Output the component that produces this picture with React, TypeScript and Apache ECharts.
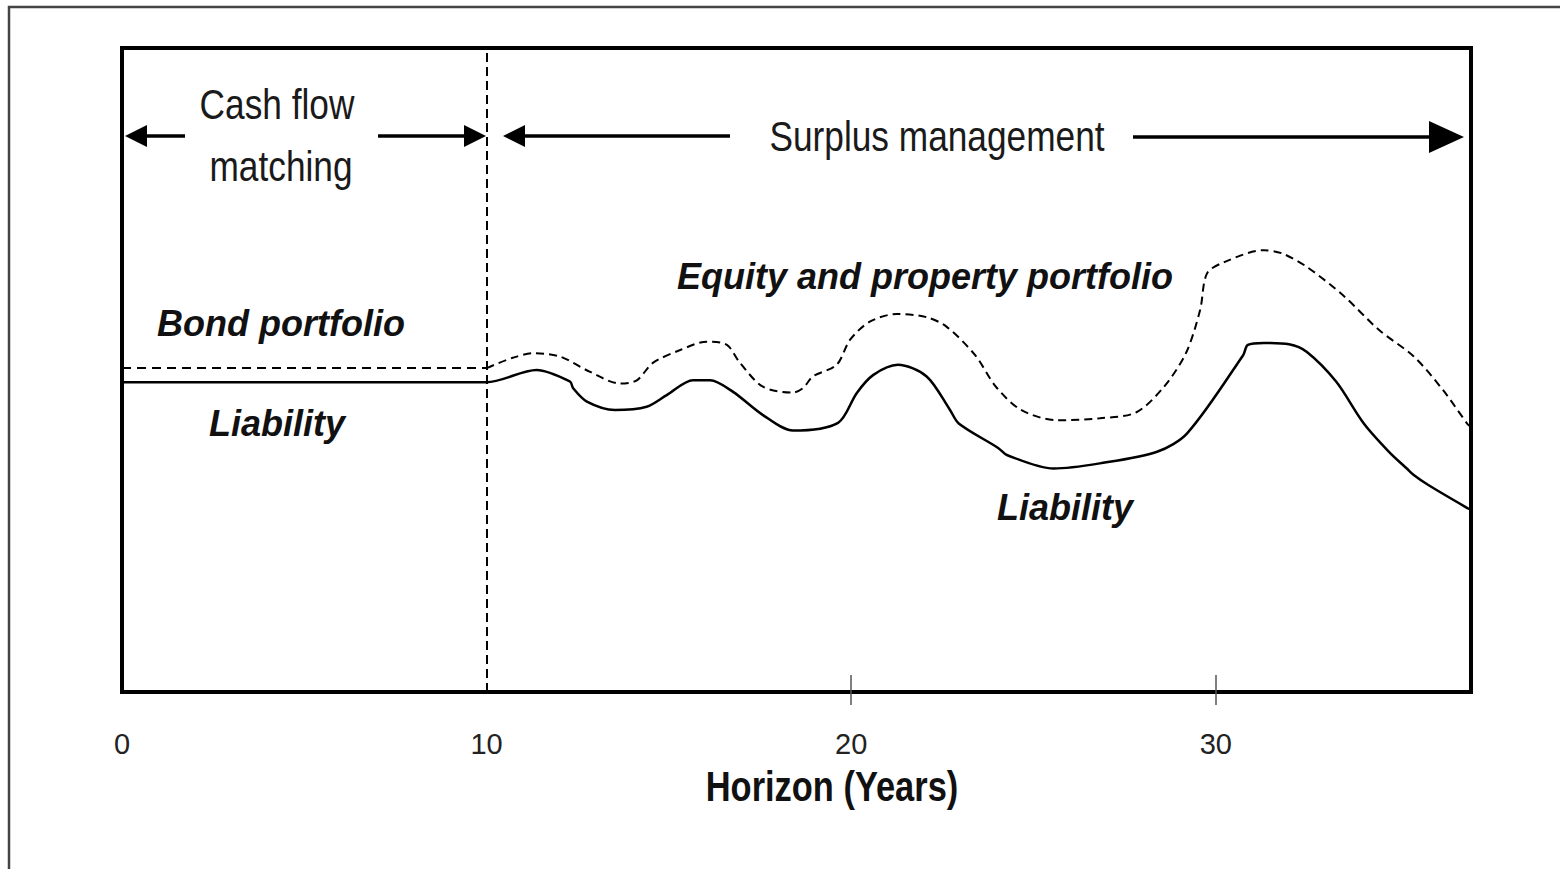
import React, { useEffect, useRef } from "react";
import * as echarts from "echarts";

// ---- Data (x = horizon in years, y = relative value, 0..100 scale) ----
const xTickLabels = [0, 10, 20, 30];
const xTickMarks = [20, 30];
const cashFlowEnd = 10;

const bondPortfolio: [number, number][] = [
  [0, 50.3],
  [10, 50.3],
];

const equityPortfolio: [number, number][] = [
  [10, 50.3], [10.72, 51.9], [11.27, 52.6], [12.01, 52.1], [12.84, 49.7],
  [13.66, 47.9], [14.12, 48.4], [14.56, 51.1], [15.31, 53.1], [16.04, 54.4],
  [16.59, 53.9], [16.95, 51.1], [17.58, 47.4], [18.4, 46.5], [18.68, 47.2],
  [18.95, 49.0], [19.6, 50.8], [19.97, 54.7], [20.51, 57.5], [21.25, 58.7],
  [22.07, 58.2], [22.62, 56.7], [23.4, 52.3], [23.97, 47.4], [24.66, 43.8],
  [25.64, 42.2], [26.82, 42.5], [27.81, 43.4], [28.58, 47.4], [29.18, 52.6],
  [29.57, 59.3], [29.76, 65.0], [30.25, 66.8], [31.32, 68.6], [31.82, 68.1],
  [32.5, 66.0], [33.49, 61.6], [34.48, 56.2], [35.43, 52.1], [36.23, 46.9],
  [36.92, 41.5], [37, 41.2],
];

const liability: [number, number][] = [
  [0, 48.1], [10, 48.1], [11.37, 50.0], [12.29, 48.2], [12.37, 47.2],
  [12.75, 45.1], [13.52, 43.8], [14.39, 44.3], [14.94, 46.1], [15.66, 48.4],
  [16.13, 48.4], [16.76, 46.6], [17.58, 43.0], [18.4, 40.6], [19.64, 41.8],
  [20.15, 46.4], [20.6, 49.2], [21.28, 50.8], [22.07, 49.0], [22.71, 43.8],
  [22.95, 41.7], [24.03, 37.9], [24.27, 36.8], [25.55, 34.7], [26.82, 35.5],
  [28.39, 37.3], [29.22, 40.2], [30.75, 52.3], [30.88, 53.9], [31.32, 54.2],
  [32.01, 54.0], [32.5, 52.8], [33.3, 48.2], [34.06, 41.7], [34.75, 37.3],
  [35.24, 34.7], [35.43, 33.7], [35.84, 32.1], [36.92, 28.5], [37, 28.3],
];

const SANS = "'Liberation Sans', Arial, sans-serif";
const NARROW_SCALE = 0.82;

function arrowHead(tipX: number, y: number, len: number, half: number, dir: 1 | -1) {
  return {
    type: "polygon",
    shape: { points: [[tipX, y], [tipX - dir * len, y - half], [tipX - dir * len, y + half]] },
    style: { fill: "#000" },
    silent: true,
  };
}

function shaft(x1: number, x2: number, y: number) {
  return {
    type: "line",
    shape: { x1, y1: y, x2, y2: y },
    style: { stroke: "#000", lineWidth: 3.5 },
    silent: true,
  };
}

function narrowLabel(text: string, x: number, y: number, size: number, bold = false) {
  return {
    type: "text",
    x,
    y,
    scaleX: NARROW_SCALE,
    silent: true,
    style: {
      text,
      align: "center",
      verticalAlign: "middle",
      fill: bold ? "#111" : "#1a1a1a",
      fontFamily: SANS,
      fontSize: size,
      fontWeight: bold ? "bold" : "normal",
    },
  };
}

function boldItalicLabel(text: string, x: number, y: number) {
  return {
    type: "text",
    x,
    y,
    silent: true,
    style: {
      text,
      align: "center",
      verticalAlign: "middle",
      fill: "#111",
      fontFamily: SANS,
      fontSize: 36,
      fontWeight: "bold",
      fontStyle: "italic",
    },
  };
}

export default function App() {
  const ref = useRef<HTMLDivElement>(null);

  useEffect(() => {
    if (!ref.current) return;
    const chart = echarts.init(ref.current, undefined, { renderer: "svg" });
    const option: any = {
      animation: false,
      backgroundColor: "#fff",
      grid: {
        left: 122,
        right: 89,
        top: 48,
        bottom: 177,
        show: true,
        borderColor: "#000",
        borderWidth: 4,
        backgroundColor: "transparent",
      },
      xAxis: [
        {
          type: "value",
          min: 0,
          max: 37,
          interval: 10,
          axisLine: { show: false },
          splitLine: { show: false },
          axisTick: {
            show: true,
            customValues: xTickMarks,
            length: 13,
            lineStyle: { color: "#555", width: 1.5 },
          },
          axisLabel: {
            customValues: xTickLabels,
            margin: 37,
            fontFamily: SANS,
            fontSize: 29,
            color: "#222",
          },
        },
        {
          type: "value",
          min: 0,
          max: 37,
          interval: 10,
          position: "bottom",
          axisLine: { show: false },
          axisLabel: { show: false },
          splitLine: { show: false },
          axisTick: {
            show: true,
            inside: true,
            customValues: xTickMarks,
            length: 17,
            lineStyle: { color: "#555", width: 1.5 },
          },
        },
      ],
      yAxis: { type: "value", min: 0, max: 100, show: false },
      series: [
        {
          name: "Bond portfolio",
          type: "line",
          xAxisIndex: 0,
          data: bondPortfolio,
          showSymbol: false,
          lineStyle: { color: "#000", width: 2, type: [9, 6] },
          silent: true,
        },
        {
          name: "Equity and property portfolio",
          type: "line",
          xAxisIndex: 0,
          data: equityPortfolio,
          showSymbol: false,
          smooth: 0.3,
          lineStyle: { color: "#000", width: 2, type: [8, 5] },
          silent: true,
        },
        {
          name: "Liability",
          type: "line",
          xAxisIndex: 0,
          data: liability,
          showSymbol: false,
          smooth: 0.3,
          lineStyle: { color: "#000", width: 2.5 },
          silent: true,
          markLine: {
            silent: true,
            symbol: ["none", "none"],
            label: { show: false },
            lineStyle: { color: "#000", width: 2, type: [9, 5] },
            data: [{ xAxis: cashFlowEnd }],
          },
        },
      ],
      graphic: [
        {
          type: "polyline",
          shape: { points: [[9, 869], [9, 7], [1560, 7]] },
          style: { stroke: "#444", lineWidth: 2.5, fill: "none" },
          silent: true,
        },
        // Cash flow matching arrows
        shaft(146, 185, 136),
        arrowHead(125, 136, 22, 11, -1),
        shaft(378, 466, 136),
        arrowHead(486, 136, 22, 11, 1),
        // Surplus management arrows
        shaft(524, 730, 136),
        arrowHead(503, 136, 22, 11, -1),
        shaft(1133, 1430, 137),
        arrowHead(1464, 137, 35, 16, 1),
        narrowLabel("Cash flow", 277, 104, 43),
        narrowLabel("matching", 281, 166, 43),
        narrowLabel("Surplus management", 937, 136, 43),
        narrowLabel("Horizon (Years)", 832, 786, 42, true),
        boldItalicLabel("Bond portfolio", 281, 323),
        boldItalicLabel("Liability", 277, 423),
        boldItalicLabel("Equity and property portfolio", 925, 276),
        boldItalicLabel("Liability", 1065, 507),
      ],
    };
    chart.setOption(option);
    return () => chart.dispose();
  }, []);

  return (
    <div
      ref={ref}
      style={{ position: "fixed", left: 0, top: 0, width: 1560, height: 869, background: "#fff" }}
    />
  );
}
